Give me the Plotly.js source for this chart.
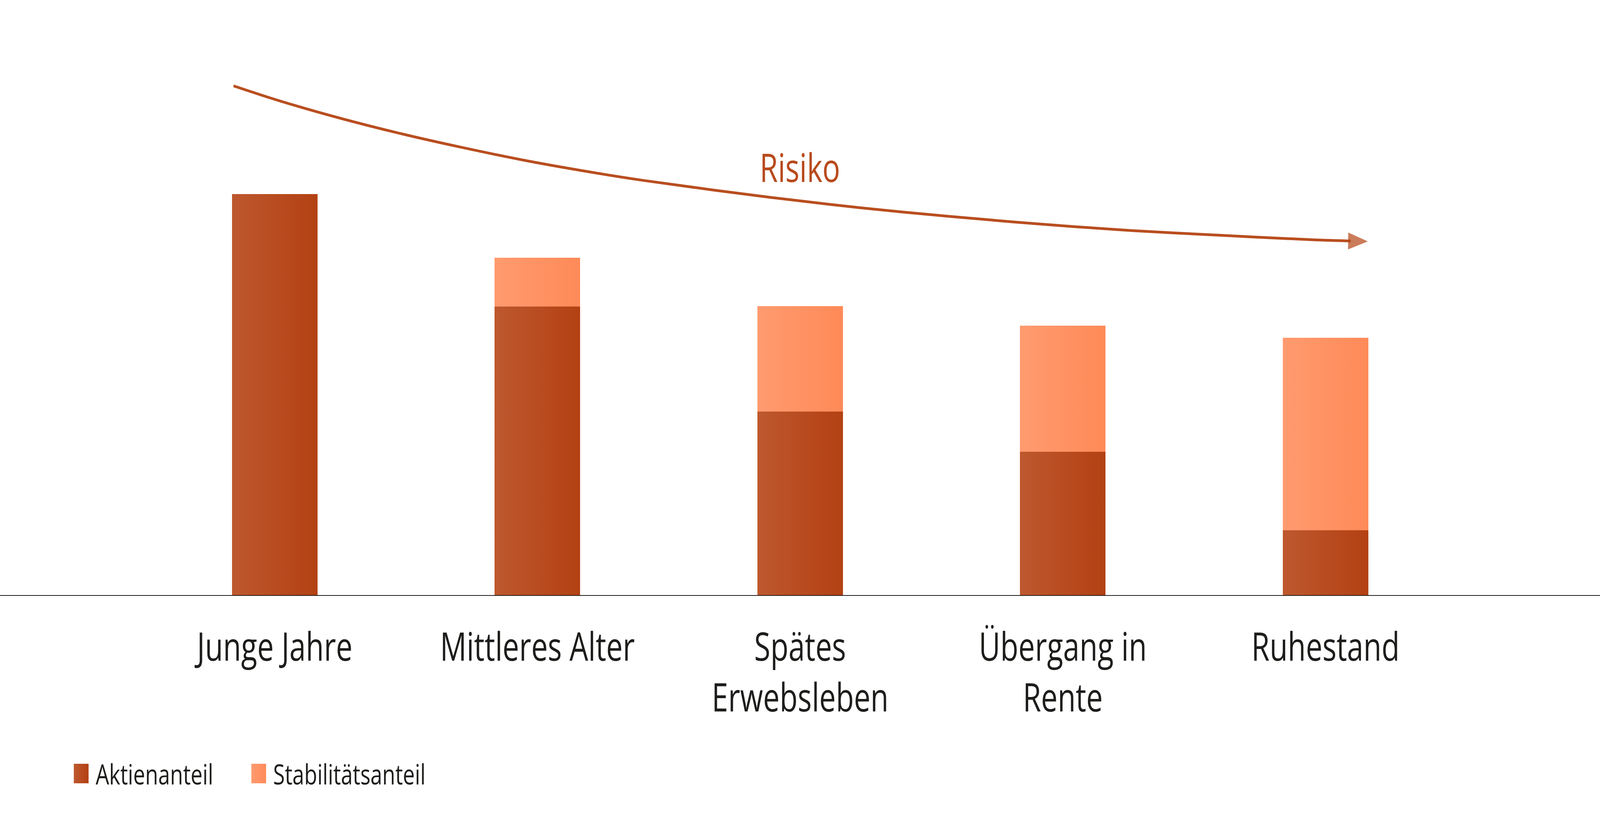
<!DOCTYPE html>
<html>
<head>
<meta charset="utf-8">
<script src="https://cdn.plot.ly/plotly-3.0.1.min.js"></script>
<style>
  html, body { margin: 0; padding: 0; background: #fff; overflow: hidden; }
  #chart { width: 5417px; height: 2100px; transform-origin: 0 0; }
</style>
</head>
<body>
<div id="chart"></div>
<script>
const PHASES = ["Junge Jahre", "Mittleres Alter", "Spätes<br>Erwebsleben", "Übergang in<br>Rente", "Ruhestand"];
const AKTIEN = [100, 72, 45.8, 35.7, 16.2];
const STABIL = [0, 12.1, 26.3, 31.5, 48.0];

// risk curve, x in category units, y in bar units
const RISK_X = [-0.157, 0.026, 0.256, 0.485, 0.715, 0.944, 1.174, 1.404, 1.884, 2.228, 2.574, 2.918, 3.262, 3.607, 3.951, 4.096];
const RISK_Y = [127.0, 123.1, 118.8, 115.0, 111.6, 108.5, 105.8, 103.4, 99.2, 96.6, 94.4, 92.5, 90.9, 89.7, 88.6, 88.3];
const ARROW_TIP = [4.161, 88.2];

const X_RANGE = [-1.046, 5.045];
const Y_RANGE = [0, 148.4];

const WIDTH = 5417;
const HEIGHT = 2100;

const TEXT = "#1d1d1b";
const RUST = "#b94e20";
const FONT = "Open Sans, Noto Sans, sans-serif";

const GRADIENTS = [
  { id: "gradAktien", from: "#be582e", to: "#b34113" },
  { id: "gradStabil", from: "#ff9b6f", to: "#ff8a58" },
];

const NS = "http://www.w3.org/2000/svg";

function addGradient(defs, grad) {
  const lg = document.createElementNS(NS, "linearGradient");
  lg.setAttribute("id", grad.id);
  lg.setAttribute("x1", "0");
  lg.setAttribute("y1", "0");
  lg.setAttribute("x2", "1");
  lg.setAttribute("y2", "0");
  [["0%", grad.from], ["100%", grad.to]].forEach(([offset, color]) => {
    const stop = document.createElementNS(NS, "stop");
    stop.setAttribute("offset", offset);
    stop.setAttribute("stop-color", color);
    lg.appendChild(stop);
  });
  defs.appendChild(lg);
}

function paintGradients(gd) {
  const svg = gd.querySelector(".main-svg");
  let defs = svg.querySelector("defs");
  if (!defs) {
    defs = document.createElementNS(NS, "defs");
    svg.insertBefore(defs, svg.firstChild);
  }
  GRADIENTS.forEach((g) => addGradient(defs, g));

  gd.querySelectorAll(".barlayer .trace").forEach((trace, i) => {
    trace.querySelectorAll(".point path").forEach((p) => {
      p.style.fill = `url(#${GRADIENTS[i].id})`;
    });
  });
  // bigger legend swatches, same gradient as the bars
  gd.querySelectorAll(".legend .traces").forEach((item, i) => {
    const p = item.querySelector(".legendpoints path");
    if (!p) return;
    p.setAttribute("d", "M25,25H-25V-25H25Z");
    p.style.fill = `url(#${GRADIENTS[i].id})`;
  });
  // entrywidth makes the box too narrow for the last label
  gd.querySelectorAll(".legend .scrollbox").forEach((el) => el.removeAttribute("clip-path"));
}

// the window can be narrower than the chart: squeeze it to fit
function fitToWindow() {
  const k = Math.min(1, window.innerWidth / WIDTH);
  const ky = Math.min(1, window.innerHeight / HEIGHT);
  document.getElementById("chart").style.transform = `scale(${k}, ${ky})`;
}

const barBase = {
  type: "bar",
  x: PHASES,
  width: 0.326,
  hoverinfo: "skip",
};

const traces = [
  {
    ...barBase,
    name: "Aktienanteil",
    y: AKTIEN,
    marker: { color: "#b94c21", line: { width: 0 } },
  },
  {
    ...barBase,
    name: "Stabilitätsanteil",
    y: STABIL,
    marker: { color: "#ff925f", line: { width: 0 } },
  },
  {
    type: "scatter",
    mode: "lines",
    xaxis: "x2",
    x: RISK_X,
    y: RISK_Y,
    line: { color: RUST, width: 7, shape: "spline", smoothing: 1 },
    showlegend: false,
    hoverinfo: "skip",
  },
  {
    type: "scatter",
    mode: "markers",
    xaxis: "x2",
    x: [RISK_X[RISK_X.length - 1], ARROW_TIP[0]],
    y: [RISK_Y[RISK_Y.length - 1], ARROW_TIP[1]],
    marker: {
      symbol: "arrow",
      angleref: "previous",
      size: [0, 70],
      color: "#b54414",
      line: { width: 0 },
    },
    showlegend: false,
    hoverinfo: "skip",
  },
];

const layout = {
  width: WIDTH,
  height: HEIGHT,
  margin: { l: 0, r: 0, t: 0, b: 576 },
  paper_bgcolor: "#fff",
  plot_bgcolor: "#fff",
  font: { family: FONT, color: TEXT, size: 100 },
  barmode: "stack",
  xaxis: {
    type: "category",
    range: X_RANGE,
    showline: true,
    linecolor: TEXT,
    linewidth: 2,
    ticks: "",
    ticklabelstandoff: 46,
    showgrid: false,
    zeroline: false,
    tickfont: { size: 100, color: TEXT },
  },
  xaxis2: {
    overlaying: "x",
    range: X_RANGE,
    visible: false,
  },
  yaxis: {
    range: Y_RANGE,
    visible: false,
  },
  showlegend: true,
  legend: {
    orientation: "h",
    traceorder: "normal",
    x: 0.0417,
    xanchor: "left",
    y: -0.3,
    yanchor: "middle",
    font: { size: 72, color: TEXT },
    itemwidth: 88,
    entrywidth: 498,
    bgcolor: "rgba(0,0,0,0)",
  },
  annotations: [
    {
      xref: "x2",
      yref: "y",
      x: 2,
      y: 106.8,
      text: "Risiko",
      showarrow: false,
      font: { size: 100, color: "#b84a1c" },
    },
  ],
};

fitToWindow();
Plotly.newPlot("chart", traces, layout, { staticPlot: true, displayModeBar: false }).then(paintGradients);
</script>
</body>
</html>
